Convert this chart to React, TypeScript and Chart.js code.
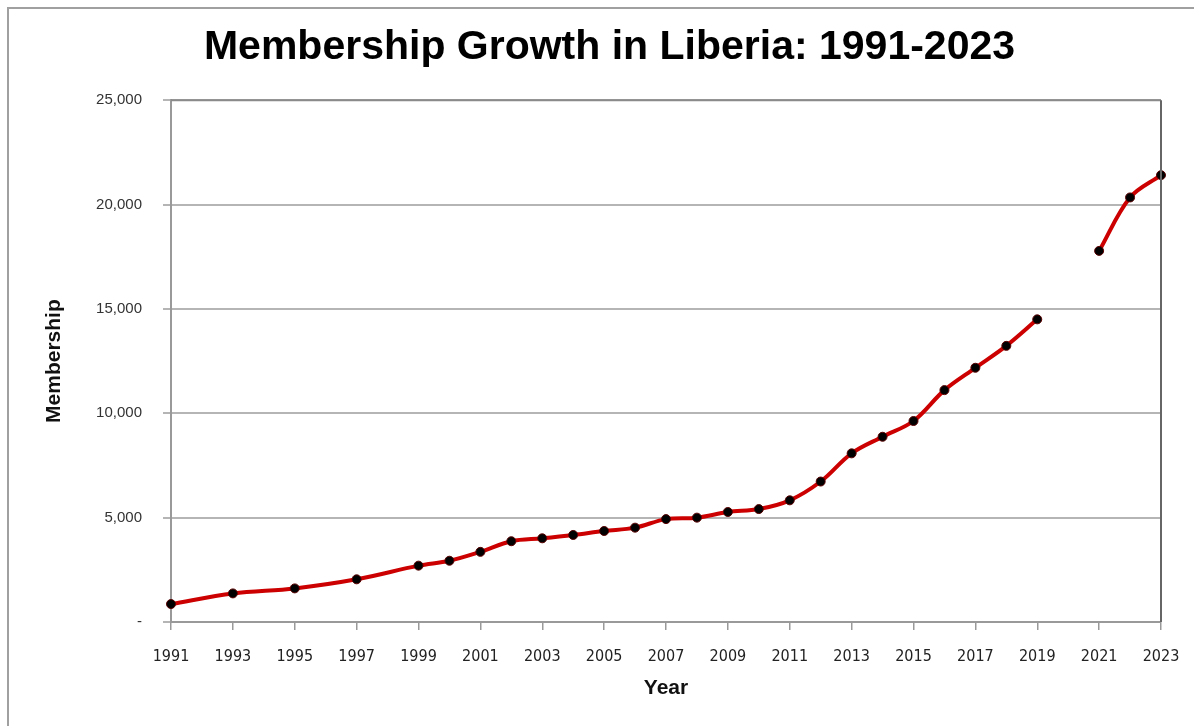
import React, { useEffect, useRef } from "react";
import { Chart, registerables } from "chart.js";

Chart.register(...registerables);

const years: number[] = [1991, 1993, 1995, 1997, 1999, 2000, 2001, 2002, 2003, 2004, 2005, 2006, 2007, 2008, 2009, 2010, 2011, 2012, 2013, 2014, 2015, 2016, 2017, 2018, 2019, 2020, 2021, 2022, 2023];
const membership: (number | null)[] = [860, 1370, 1610, 2045, 2700, 2935, 3360, 3870, 4010, 4170, 4360, 4520, 4930, 5000, 5270, 5410, 5830, 6730, 8080, 8875, 9630, 11110, 12180, 13230, 14500, null, 17780, 20340, 21410];

const chartTitle = "Membership Growth in Liberia: 1991-2023";
const xTitle = "Year";
const yTitle = "Membership";

const plotBorder = {
  id: "plotBorder",
  afterLayout(chart: any) {
    const tb = chart.titleBlock;
    if (tb) {
      tb.left += 29;
      tb.right += 29;
    }
  },
  afterDraw(chart: any) {
    const { ctx, chartArea } = chart;
    ctx.save();
    ctx.lineWidth = 2;
    ctx.strokeStyle = "#8a8a8a";
    ctx.beginPath();
    ctx.moveTo(chartArea.left, chartArea.top);
    ctx.lineTo(chartArea.right, chartArea.top);
    ctx.stroke();
    ctx.strokeStyle = "#666666";
    ctx.beginPath();
    ctx.moveTo(chartArea.right, chartArea.top);
    ctx.lineTo(chartArea.right, chartArea.bottom);
    ctx.stroke();
    ctx.restore();
  },
};

export default function App() {
  const ref = useRef<HTMLCanvasElement>(null);
  useEffect(() => {
    if (!ref.current) return;
    const chart = new Chart(ref.current, {
      type: "line",
      data: {
        datasets: [
          {
            data: years.map((y, i) => ({ x: y, y: membership[i] })) as any,
            borderColor: "#cc0000",
            borderWidth: 4,
            tension: 0.35,
            spanGaps: false,
            clip: false,
            pointRadius: 4.5,
            pointBackgroundColor: "#000000",
            pointBorderColor: "#5a0000",
            pointBorderWidth: 1,
          },
        ],
      },
      options: {
        animation: false,
        responsive: false,
        layout: { padding: { left: 0, right: 33, top: 0, bottom: 0 } },
        plugins: {
          legend: { display: false },
          tooltip: { enabled: false },
          title: {
            display: true,
            text: chartTitle,
            color: "#000000",
            font: { family: "Liberation Sans, Arial", size: 41, weight: "bold" },
            padding: { top: 23, bottom: 28 },
          },
        },
        scales: {
          x: {
            type: "linear",
            min: 1991,
            max: 2023,
            afterFit(scale: any) {
              scale.height = 104;
              scale.paddingRight = 0;
              scale.paddingLeft = 0;
            },
            ticks: {
              stepSize: 2,
              color: "#222222",
              padding: 17,
              maxRotation: 0,
              autoSkip: false,
              font: { family: "Liberation Sans Narrow, DejaVu Sans Condensed, Arial", size: 16 },
              callback: (v: any) => String(v),
            },
            grid: {
              drawOnChartArea: false,
              drawTicks: true,
              tickLength: 8,
              color: "#999999",
              lineWidth: 1.5,
            },
            border: { color: "#999999", width: 2 },
            title: {
              display: true,
              text: xTitle,
              color: "#111111",
              font: { family: "Liberation Sans, Arial", size: 21, weight: "bold" },
              padding: { top: 0, bottom: 25 },
            },
          },
          y: {
            min: 0,
            max: 25000,
            afterFit(scale: any) {
              scale.width = 171;
            },
            ticks: {
              stepSize: 5000,
              color: "#333333",
              padding: 21,
              font: { family: "Liberation Sans, Arial", size: 15 },
              callback: (v: any) => (v === 0 ? "-" : Number(v).toLocaleString("en-US")),
            },
            grid: {
              color: "#b5b5b5",
              lineWidth: 2,
              tickLength: 8,
            },
            border: { color: "#999999", width: 2 },
            title: {
              display: true,
              text: yTitle,
              color: "#111111",
              font: { family: "Liberation Sans, Arial", size: 21, weight: "bold" },
              padding: { top: 42, bottom: 0 },
            },
          },
        },
      },
      plugins: [plotBorder],
    });
    return () => chart.destroy();
  }, []);
  return (
    <div style={{ position: "fixed", left: 0, top: 0, width: 1194, height: 726, background: "#ffffff" }}>
      <div
        style={{
          position: "absolute",
          left: 7,
          top: 7,
          right: -10,
          bottom: -10,
          borderTop: "2px solid #a0a0a0",
          borderLeft: "2px solid #a0a0a0",
        }}
      />
      <canvas ref={ref} width={1194} height={726} style={{ position: "absolute", left: 0, top: 0 }} />
    </div>
  );
}
